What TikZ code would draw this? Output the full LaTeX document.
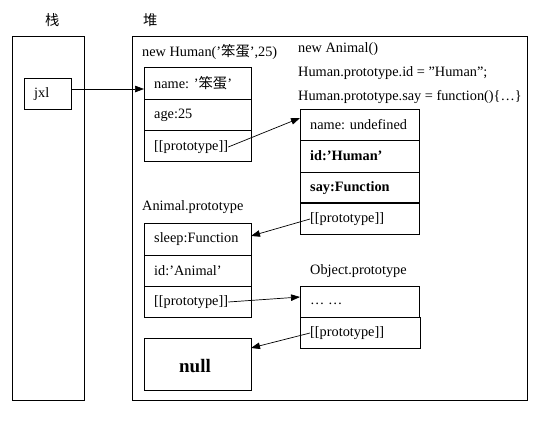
\documentclass[tikz,border=0pt]{standalone}
\usepackage{fontspec}
\setmainfont{Liberation Serif}
\newfontfamily\cjk{Noto Sans CJK SC}
\usetikzlibrary{arrows.meta}
\begin{document}
\begin{tikzpicture}[x=1pt,y=-1pt,
  box/.style={draw,line width=0.8pt},
  lbl/.style={anchor=west,inner sep=0pt,font=\fontsize{14.3}{16}\selectfont},
  arr/.style={-{Triangle[length=9pt,width=6.5pt]},line width=0.7pt}]
\useasboundingbox (0,0) rectangle (541,429);
% titles
\node[lbl] (tz) at (45,20) {\cjk 栈};
\node[lbl] (td) at (143,20) {\cjk 堆};
% outer boxes
\draw[box] (12,36) rectangle (84,400);
\draw[box] (132,36) rectangle (527,400);
% jxl
\draw[box] (24,78) rectangle (71,109);
\node[lbl] (jxl) at (34,94) {jxl};
\coordinate (jxlR) at (71,89);
% Human object
\node[lbl] (hlab) at (142,52) {new Human('{\cjk 笨蛋}',25)};
\draw[box] (144,67) rectangle (251,161);
\draw[box] (144,99) -- (251,99);
\draw[box] (144,130) -- (251,130);
\node[lbl] (hname) at (154,83) {name: '{\cjk 笨蛋}'};
\node[lbl] (hage) at (154,115) {age:25};
\node[lbl] (hproto) at (154,147) {[[prototype]]};
\coordinate (hnameL) at (144,89);
% Animal instance
\node[lbl] (a1) at (298,49) {new Animal()};
\node[lbl] (a2) at (298,73) {Human.prototype.id = "Human";};
\node[lbl] (a3) at (298,97) {Human.prototype.say = function()\{…\}};
\draw[box] (300,109) rectangle (419,234);
\draw[box] (300,140) -- (419,140);
\draw[box] (300,172) -- (419,172);
\draw[line width=1.6pt] (300,203) -- (419,203);
\node[lbl] (aname) at (310,125) {name: undefined};
\node[lbl] (aid) at (310,156) {\textbf{id:'Human'}};
\node[lbl] (asay) at (310,188) {\textbf{say:Function}};
\node[lbl] (aproto) at (310,219) {[[prototype]]};
\coordinate (aL) at (300,118);
% Animal.prototype
\node[lbl] (aplab) at (142,207) {Animal.prototype};
\draw[box] (144,223) rectangle (251,317);
\draw[box] (144,255) -- (251,255);
\draw[box] (144,286) -- (251,286);
\node[lbl] (apsleep) at (154,239) {sleep:Function};
\node[lbl] (apid) at (154,271) {id:'Animal'};
\node[lbl] (approto) at (154,302) {[[prototype]]};
\coordinate (apR) at (251,236);
% Object.prototype
\node[lbl] (oplab) at (310,271) {Object.prototype};
\draw[box] (300,286) rectangle (419,317);
\draw[box] (300,317) rectangle (420,348);
\node[lbl] (opdots) at (310,304) {… …};
\node[lbl] (opproto) at (310,333) {[[prototype]]};
\coordinate (opL) at (300,297);
% null
\draw[box] (144,338) rectangle (251,390);
\node[inner sep=0pt,font=\fontsize{19}{22}\selectfont\bfseries] (nul) at (195,366) {null};
\coordinate (nulR) at (251,348);
% arrows
\draw[arr] (jxlR) -- (hnameL);
\draw[arr] (hproto.east) -- (aL);
\draw[arr] (aproto.west) -- (apR);
\draw[arr] (approto.east) -- (opL);
\draw[arr] (opproto.west) -- (nulR);
\end{tikzpicture}
\end{document}
